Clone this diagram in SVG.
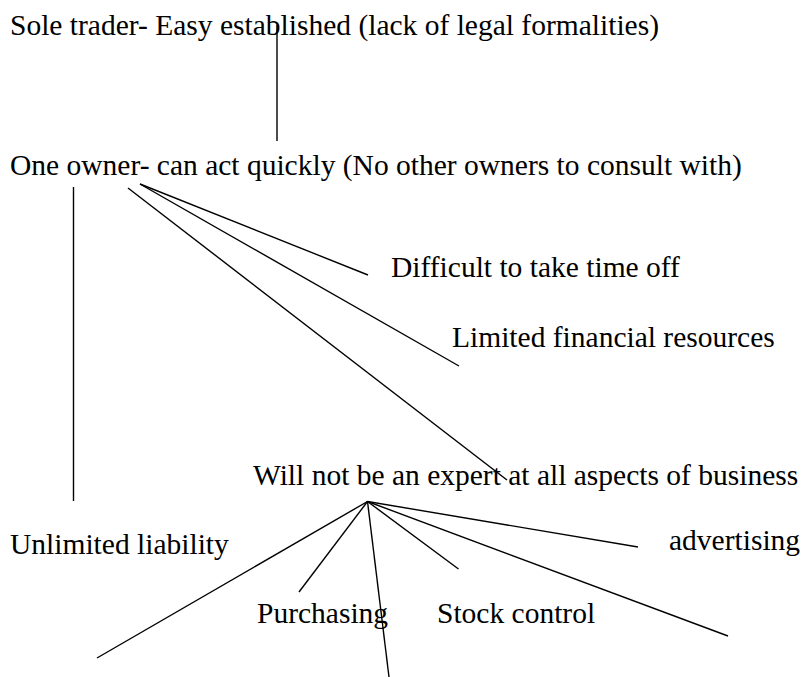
<svg xmlns="http://www.w3.org/2000/svg" width="812" height="677" viewBox="0 0 812 677">
<style>
text{font-family:"Liberation Serif","Times New Roman",serif;font-size:29.5px;fill:#000}
.c line{stroke:#000;stroke-width:1.4;fill:none}
</style>
<rect width="812" height="677" fill="#fff"/>
<g class="c" id="connectors">
<line x1="277" y1="25" x2="277" y2="141"/>
<line x1="73.5" y1="187" x2="73.5" y2="501"/>
<line x1="140" y1="184" x2="368" y2="275"/>
<line x1="140" y1="184" x2="459" y2="366"/>
<line x1="128" y1="188" x2="507" y2="480"/>
<line x1="367.5" y1="501.5" x2="97" y2="658"/>
<line x1="367.5" y1="501.5" x2="299" y2="592"/>
<line x1="367.5" y1="501.5" x2="389" y2="677"/>
<line x1="367.5" y1="501.5" x2="458.5" y2="569"/>
<line x1="367.5" y1="501.5" x2="728" y2="636"/>
<line x1="367.5" y1="501.5" x2="638" y2="547"/>
</g>
<g id="sole"><text x="10" y="35">Sole trader- Easy established (lack of legal formalities)</text></g>
<g id="owner"><text x="10" y="175">One owner- can act quickly (No other owners to consult with)</text></g>
<g id="timeoff"><text x="391" y="277">Difficult to take time off</text></g>
<g id="finance"><text x="452" y="347">Limited financial resources</text></g>
<g id="expert"><text x="253" y="485">Will not be an expert at all aspects of business</text></g>
<g id="liability"><text x="10" y="554">Unlimited liability</text></g>
<g id="advertising"><text x="669" y="550">advertising</text></g>
<g id="purchasing"><text x="257" y="623">Purchasing</text></g>
<g id="stock"><text x="437" y="623">Stock control</text></g>
</svg>
